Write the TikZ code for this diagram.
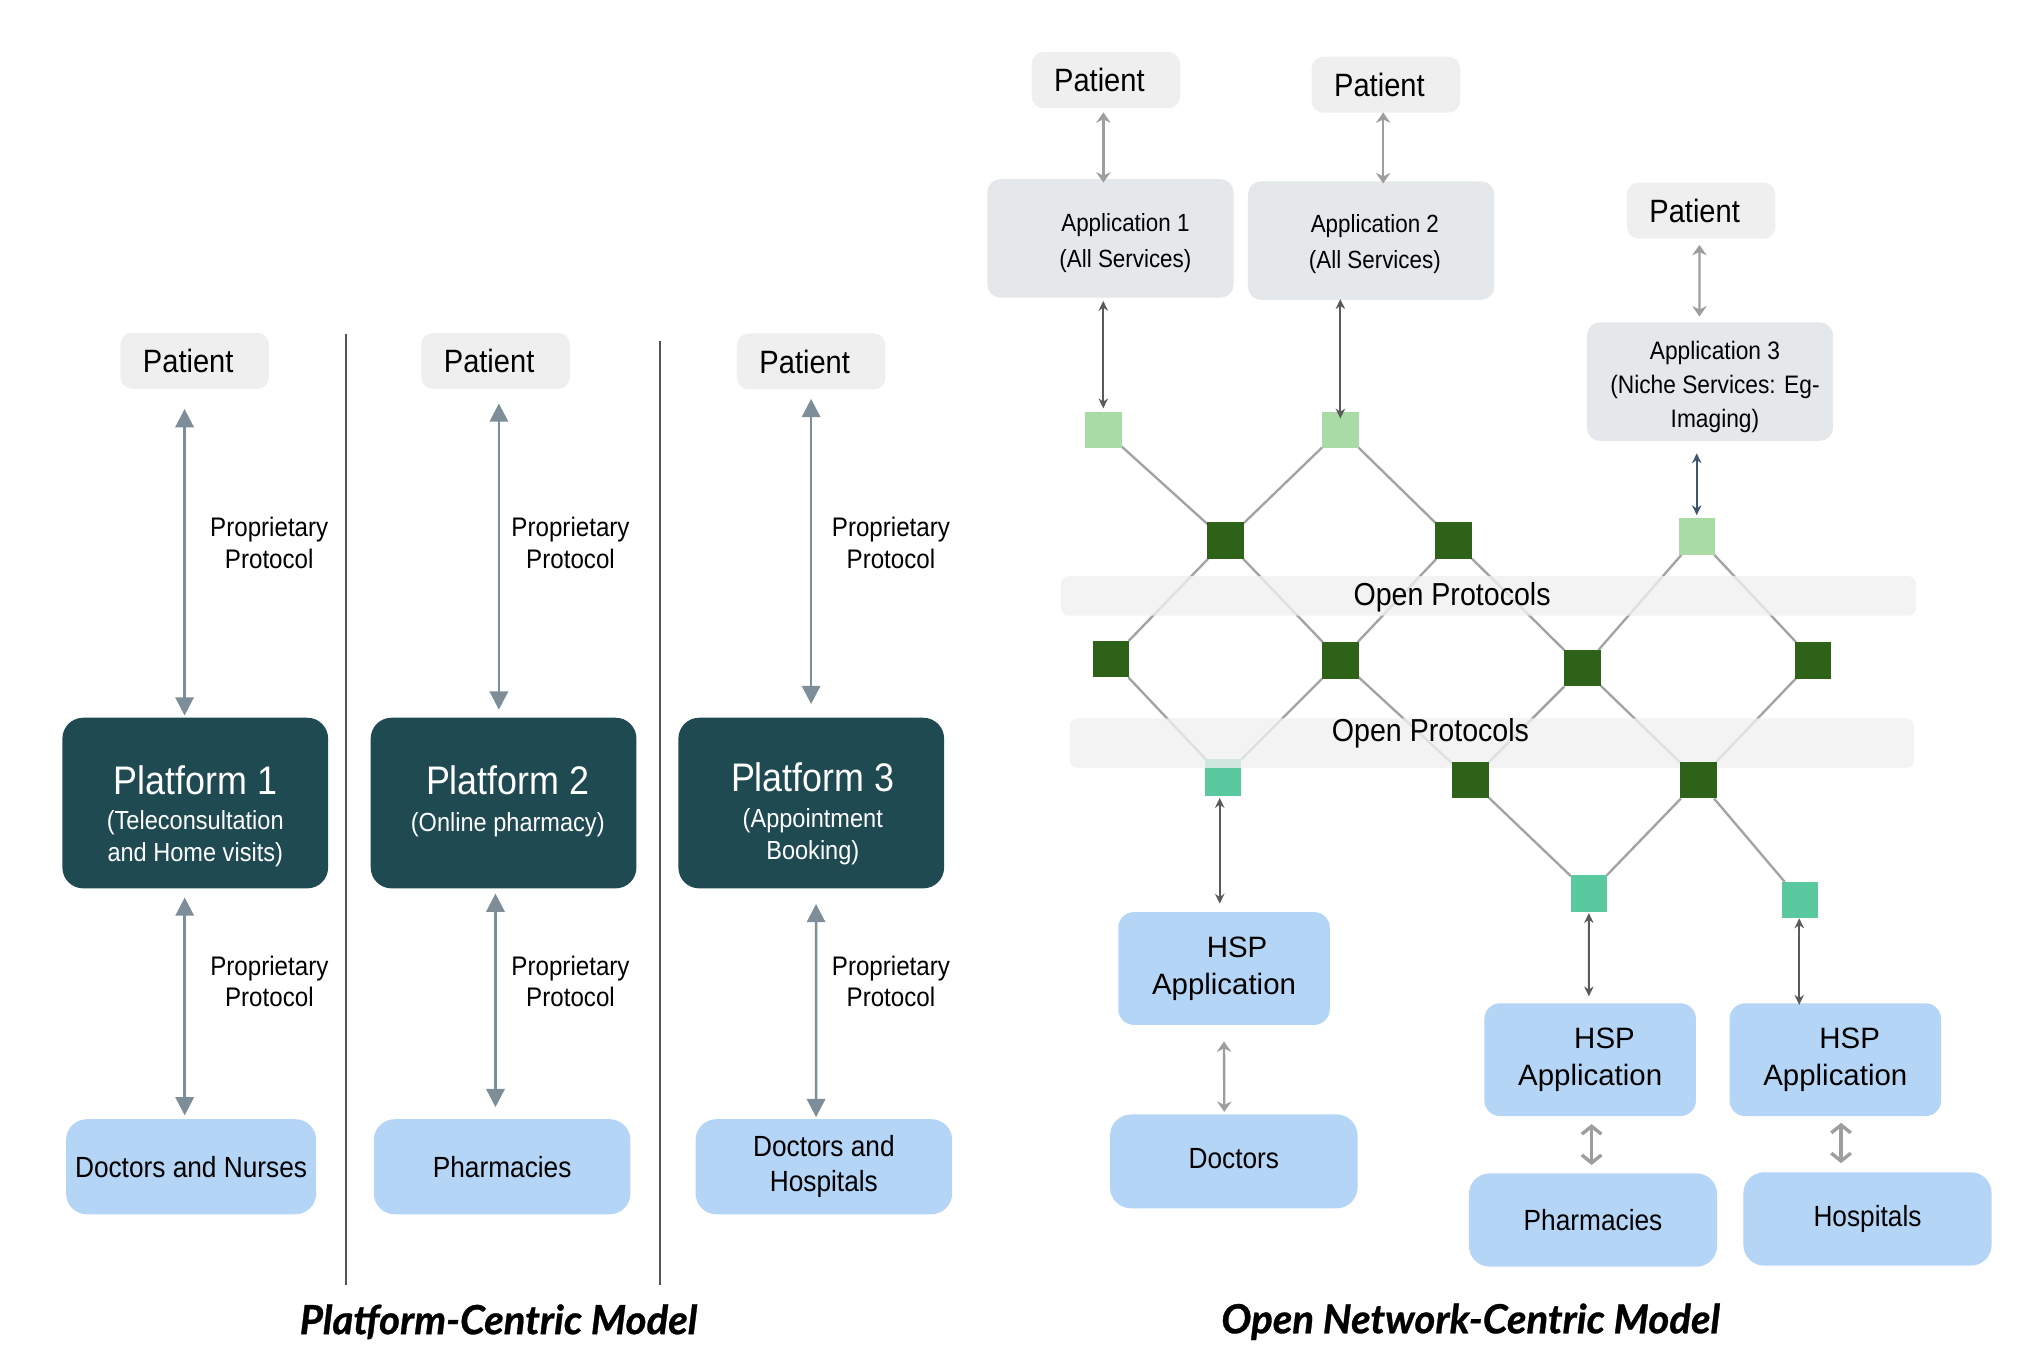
\documentclass[tikz,border=0pt]{standalone}
\usepackage{fontspec}
\setmainfont{Liberation Sans}[FakeStretch=0.9]
\newfontfamily\plainsans{Liberation Sans}
\newfontfamily\titlefont{Lato}[BoldItalicFeatures={FakeBold=0.8}]
\usetikzlibrary{arrows.meta,calc}
\pgfdeclarelayer{bglayer}
\pgfdeclarelayer{midlayer}
\pgfsetlayers{bglayer,midlayer,main}
\definecolor{patbg}{HTML}{EFEFEF}
\definecolor{appbg}{HTML}{E4E8EB}
\definecolor{platbg}{HTML}{1F4A52}
\definecolor{bluebg}{HTML}{B4D5F6}
\definecolor{arrblue}{HTML}{7D8E99}
\definecolor{lgreen}{HTML}{A9DBA6}
\definecolor{dgreen}{HTML}{2E6219}
\definecolor{sqteal}{HTML}{5BC99F}
\definecolor{bandbg}{HTML}{F0F0F0}
\definecolor{divline}{HTML}{555555}
\definecolor{lgray}{HTML}{9E9E9E}
\definecolor{dgray}{HTML}{5A5A5A}
\definecolor{slate}{HTML}{3E5770}
\definecolor{linegray}{HTML}{A3A3A3}
\begin{document}
\begin{tikzpicture}[x=0.5pt,y=-0.5pt,
  every node/.style={inner sep=0pt, outer sep=0pt},
  patient/.style={fill=patbg, rounded corners=4.5pt, minimum width=57pt, minimum height=21.5pt, font=\fontsize{12.4}{14}\selectfont},
  platbox/.style={fill=platbg, rounded corners=8pt, minimum width=102pt, minimum height=65.5pt},
  plattitle/.style={text=white, font=\fontsize{15.3}{18}\selectfont},
  platsub/.style={text=white, align=center, font=\fontsize{10.05}{12.5}\selectfont},
  bluebox/.style={fill=bluebg, rounded corners=8pt, align=center, font=\fontsize{11.2}{13.5}\selectfont},
  appbox/.style={fill=appbg, rounded corners=5pt, minimum width=94.5pt, minimum height=45.5pt},
  apptext/.style={align=center},
  hspbox/.style={fill=bluebg, rounded corners=6pt, minimum width=81.2pt, minimum height=43.3pt, align=center, font=\plainsans\fontsize{11.3}{14.1}\selectfont},
  proto/.style={align=center, font=\fontsize{10.3}{12}\selectfont},
  parr/.style={{Triangle[width=7pt,length=7pt]}-{Triangle[width=7pt,length=7pt]}, line width=1pt, draw=arrblue, fill=arrblue},
  rgarr/.style={{Stealth[width=5.5pt,length=4pt]}-{Stealth[width=5.5pt,length=4pt]}, line width=0.9pt, draw=lgray},
  rdarr/.style={{Stealth[width=3.6pt,length=3.8pt]}-{Stealth[width=3.6pt,length=3.8pt]}, line width=0.7pt, draw=dgray},
  rbarr/.style={{Straight Barb[width=7.5pt,length=3pt]}-{Straight Barb[width=7.5pt,length=3pt]}, line width=1.3pt, draw=lgray},
  sq/.style={minimum size=14pt},
  netline/.style={line width=0.9pt, draw=linegray},
  band/.style={fill=bandbg, fill opacity=0.78, rounded corners=3pt},
  optext/.style={font=\fontsize{12.2}{14}\selectfont},
  divider/.style={line width=0.75pt, draw=divline},
  modeltitle/.style={font=\titlefont\bfseries\itshape\fontsize{15.4}{18}\selectfont}
]
\begin{pgfonlayer}{bglayer}
\fill[white] (0,0) rectangle (1560,1041);
\end{pgfonlayer}
\useasboundingbox (0,0) rectangle (1560,1041);

% ---------------- Left: platform-centric ----------------
\coordinate (dv1a) at (265.8,256.7);
\coordinate (dv1b) at (265.8,986.5);
\coordinate (dv2a) at (507,262);
\coordinate (dv2b) at (507,986.5);
\draw[divider] (dv1a) -- (dv1b);
\draw[divider] (dv2a) -- (dv2b);

\node[patient] (P1) at (149.5,277) {\hspace*{-5pt}Patient};
\node[patient] (P2) at (380.5,277) {\hspace*{-5pt}Patient};
\node[patient] (P3) at (622.8,277.5) {\hspace*{-5pt}Patient};

\node[platbox] (Pf1) at (149.9,616.5) {};
\node[platbox] (Pf2) at (386.6,616.5) {};
\node[platbox] (Pf3) at (622.8,616.5) {};
\node[plattitle] (Pf1t) at (149.9,599) {Platform 1};
\node[platsub] (Pf1s) at (149.9,644) {(Teleconsultation\\and Home visits)};
\node[plattitle] (Pf2t) at (389.8,599) {Platform 2};
\node[platsub] (Pf2s) at (389.8,633) {(Online pharmacy)};
\node[plattitle] (Pf3t) at (624,596.5) {Platform 3};
\node[platsub] (Pf3s) at (624,642.5) {(Appointment\\Booking)};

\node[bluebox, minimum width=96pt, minimum height=36.5pt] (D1) at (146.7,895.7) {Doctors and Nurses};
\node[bluebox, minimum width=98.5pt, minimum height=36.5pt] (D2) at (385.5,895.7) {Pharmacies};
\node[bluebox, minimum width=98.5pt, minimum height=36.5pt] (D3) at (632.5,895.7) {Doctors and\\Hospitals};

\draw[parr] ($(P1.south)+(-7.8,15.5)$) -- ($(Pf1.north)+(-8.2,-1.7)$);
\draw[parr] ($(P2.south)+(2.5,11.2)$) -- ($(Pf2.north)+(-3.6,-6.2)$);
\draw[parr] ($(P3.south)+(-0.1,7.2)$) -- ($(Pf3.north)+(-0.1,-10.5)$);
\draw[parr] ($(Pf1.south)+(-8.1,7)$) -- ($(D1.north)+(-4.9,-2.9)$);
\draw[parr] ($(Pf2.south)+(-6.2,4)$) -- ($(D2.north)+(-5.1,-9.2)$);
\draw[parr] ($(Pf3.south)+(3.7,12)$) -- ($(D3.north)+(-6,-1.5)$);

\node[proto] (lA1) at (206.7,416.8) {Proprietary\\Protocol};
\node[proto] (lA2) at (438,416.8) {Proprietary\\Protocol};
\node[proto] (lA3) at (684,416.8) {Proprietary\\Protocol};
\node[proto] (lB1) at (206.8,753.5) {Proprietary\\Protocol};
\node[proto] (lB2) at (438,753.5) {Proprietary\\Protocol};
\node[proto] (lB3) at (684,753.5) {Proprietary\\Protocol};

\node[modeltitle] (tl) at (382.7,1014.7) {Platform-Centric Model};

% ---------------- Right: open network ----------------
\node[patient] (RP1) at (849,61.5) {\hspace*{-5pt}Patient};
\node[patient] (RP2) at (1064,65) {\hspace*{-5pt}Patient};
\node[patient] (RP3) at (1306,161.7) {\hspace*{-5pt}Patient};

\node[appbox] (App1) at (852.5,183) {};
\node[appbox] (App2) at (1052.6,184.7) {};
\node[appbox] (App3) at (1312.8,293) {};
\node[apptext, font=\fontsize{9.55}{13.8}\selectfont] (App1t) at (864,186.5) {Application 1\\(All Services)};
\node[apptext, font=\fontsize{9.55}{13.8}\selectfont] (App2t) at (1055.5,187.5) {Application 2\\(All Services)};
\node[apptext, font=\fontsize{9.7}{13}\selectfont] (App3t) at (1316.6,297) {Application 3\\(Niche Services: Eg-\\Imaging)};

% squares
\node[sq, fill=lgreen] (L1) at (847,330) {};
\node[sq, fill=lgreen] (L2) at (1029,330) {};
\node[sq, fill=lgreen] (L3) at (1303,412) {};
\node[sq, fill=dgreen] (G1) at (941,415) {};
\node[sq, fill=dgreen] (G2) at (1116,415) {};
\node[sq, fill=dgreen] (G3) at (853,506) {};
\node[sq, fill=dgreen] (G4) at (1029,507) {};
\node[sq, fill=dgreen] (G5) at (1215,513) {};
\node[sq, fill=dgreen] (G6) at (1392,507) {};
\node[sq, fill=dgreen] (G7) at (1129,599) {};
\node[sq, fill=dgreen] (G8) at (1304,599) {};
\begin{pgfonlayer}{bglayer}
\node[sq, fill=sqteal] (T1) at (939,597) {};
\end{pgfonlayer}
\node[sq, fill=sqteal] (T2) at (1220,686) {};
\node[sq, fill=sqteal] (T3) at (1382,691) {};

\begin{pgfonlayer}{bglayer}
\draw[netline] (L1) -- (G1);
\draw[netline] (L2) -- (G1);
\draw[netline] (L2) -- (G2);
\draw[netline] (G1) -- (G3);
\draw[netline] (G1) -- (G4);
\draw[netline] (G2) -- (G4);
\draw[netline] (G2) -- (G5);
\draw[netline] (L3) -- (G5);
\draw[netline] (L3) -- (G6);
\draw[netline] (G3) -- (T1);
\draw[netline] (G4) -- (T1);
\draw[netline] (G4) -- (G7);
\draw[netline] (G5) -- (G7);
\draw[netline] (G5) -- (G8);
\draw[netline] (G6) -- (G8);
\draw[netline] (G7) -- (T2);
\draw[netline] (G8) -- (T2);
\draw[netline] (G8) -- (T3);
\end{pgfonlayer}

\begin{pgfonlayer}{midlayer}
\node[band, minimum width=328.25pt, minimum height=15.25pt] (band1) at (1142.75,457.45) {};
\node[band, minimum width=324.1pt, minimum height=18.95pt] (band2) at (1145.3,570.45) {};
\node[optext] (op1) at (1114.8,458.6) {Open Protocols};
\node[optext] (op2) at (1098.2,563) {Open Protocols};
\end{pgfonlayer}

\node[hspbox] (H1) at (939.7,743.5) {\hspace*{10pt}HSP\\Application};
\node[hspbox] (H2) at (1220.8,813.5) {\hspace*{11pt}HSP\\Application};
\node[hspbox] (H3) at (1409,813.5) {\hspace*{11pt}HSP\\Application};

\node[bluebox, minimum width=95pt, minimum height=36pt] (Doc) at (947.2,891.6) {\raisebox{2.5pt}{Doctors}};
\node[bluebox, minimum width=95.25pt, minimum height=35.85pt] (Pha) at (1223,936.6) {Pharmacies};
\node[bluebox, minimum width=95.3pt, minimum height=35.85pt] (Hos) at (1433.7,935.8) {Hospitals};

% right arrows
\draw[rgarr] ($(RP1.south)+(-1.9,3.2)$) -- ($(App1.north)+(-5.4,2.7)$);
\draw[rgarr] ($(RP2.south)+(-2.1,-0.2)$) -- ($(App2.north)+(9.3,1.6)$);
\draw[rgarr] ($(RP3.south)+(-1.3,4.8)$) -- ($(App3.north)+(-8.1,-4.5)$);
\draw[rdarr] ($(App1.south)+(-5.5,2.5)$) -- ($(L1.north)+(0,-2.5)$);
\draw[rdarr] ($(App2.south)+(-23.6,-0.6)$) -- ($(L2.north)+(0,5.3)$);
\draw[rdarr, draw=slate] ($(App3.south)+(-10.2,9.5)$) -- ($(L3.north)+(-0.4,-2.5)$);
\draw[rdarr] ($(T1.south)+(-2.6,1.6)$) -- ($(H1.north)+(-3.3,-6.4)$);
\draw[rgarr] ($(H1.south)+(0,12.7)$) -- ($(Doc.north)+(-7.3,-2)$);
\draw[rdarr] ($(T2.south)+(-0.2,1)$) -- ($(H2.north)+(-1,-5.3)$);
\draw[rdarr] ($(T3.south)+(-0.7,0)$) -- ($(H3.north)+(-27.7,1.2)$);
\draw[rbarr] ($(H2.south)+(1.1,6.2)$) -- ($(Pha.north)+(-1.1,-6.4)$);
\draw[rbarr] ($(H3.south)+(4.4,5.2)$) -- ($(Hos.north)+(-20.3,-7)$);

\node[modeltitle] (tr) at (1129,1014.7) {Open Network-Centric Model};
\end{tikzpicture}
\end{document}
